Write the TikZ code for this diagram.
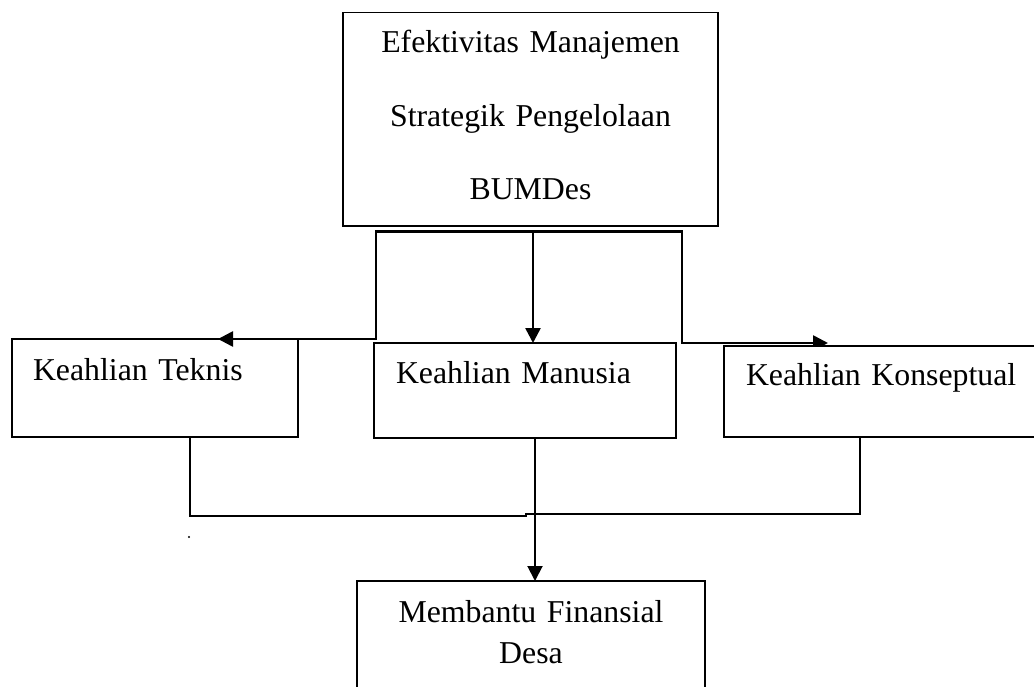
\documentclass[tikz,border=0pt]{standalone}
\usepackage{fontspec}
\setmainfont{Liberation Serif}
\usepackage{tikz}
\usetikzlibrary{arrows.meta,calc,backgrounds}

\begin{document}
\begin{tikzpicture}[x=1pt,y=-1pt,font=\fontsize{31.8}{41}\selectfont,
   b/.style={draw,line width=1.6pt,anchor=north west,outer sep=0pt,
             inner ysep=0pt,inner xsep=21pt,align=left},
   link/.style={line width=2.6pt,-{Triangle[length=15pt,width=15pt]}},
   merge/.style={line width=2pt}]
  \useasboundingbox (0,0) rectangle (1034,687);
  \clip (0,0) rectangle (1034,687);
  \node[b,inner xsep=0pt,align=center,text width=375pt,text height=40.3pt,text depth=173.3pt,
        font=\fontsize{31.8}{73.5}\selectfont] (efek) at (343,12.7)
       {Efektivitas Manajemen\\Strategik Pengelolaan\\BUMDes};
  \node[b,text width=244pt,text height=41pt,text depth=57pt] (k1) at (12,339) {Keahlian Teknis};
  \node[b,inner xsep=22pt,text width=258pt,text height=40pt,text depth=55pt] (k2) at (374,343) {Keahlian Manusia};
  \node[b,fill=white,inner xsep=22pt,text width=300pt,text height=39pt,text depth=52pt] (k3) at (724,346) {Keahlian Konseptual};
  \node[b,inner xsep=0pt,align=center,text width=348pt,text height=41pt,text depth=120pt] (desa) at (357,581)
       {Membantu Finansial\\Desa};
  \coordinate (busL) at ($(efek.south west)+(33,5)$);
  \coordinate (busM) at ($(efek.south)+(2.5,5)$);
  \coordinate (busR) at ($(efek.south east)+(-36,5)$);
  \coordinate (tA) at ($(k1.south west)+(178,0)$);
  \coordinate (tC) at ($(k3.south west)+(135.5,0)$);
  \coordinate (kink) at (525.5,514);
  \coordinate (mid) at ($(k2.south)+(10,0)$);
  \coordinate (speck) at (189,537);
  \begin{scope}[on background layer]
    \draw[link] (busM) -- (busL) |- ($(k1.north east)+(-80,0)$);
    \draw[link] (busM) -- (busR) |- ($(k3.north west)+(104,-3)$);
    \draw[link] (busM) -- (busM |- k2.north);
    \draw[merge] (tA) |- ($(kink)+(0,1.7)$) -- (kink) -| (tC);
    \draw[link,line width=2pt] (mid) -- (mid |- desa.north);
  \end{scope}
  \fill (speck) circle (1.1);
\end{tikzpicture}
\end{document}
